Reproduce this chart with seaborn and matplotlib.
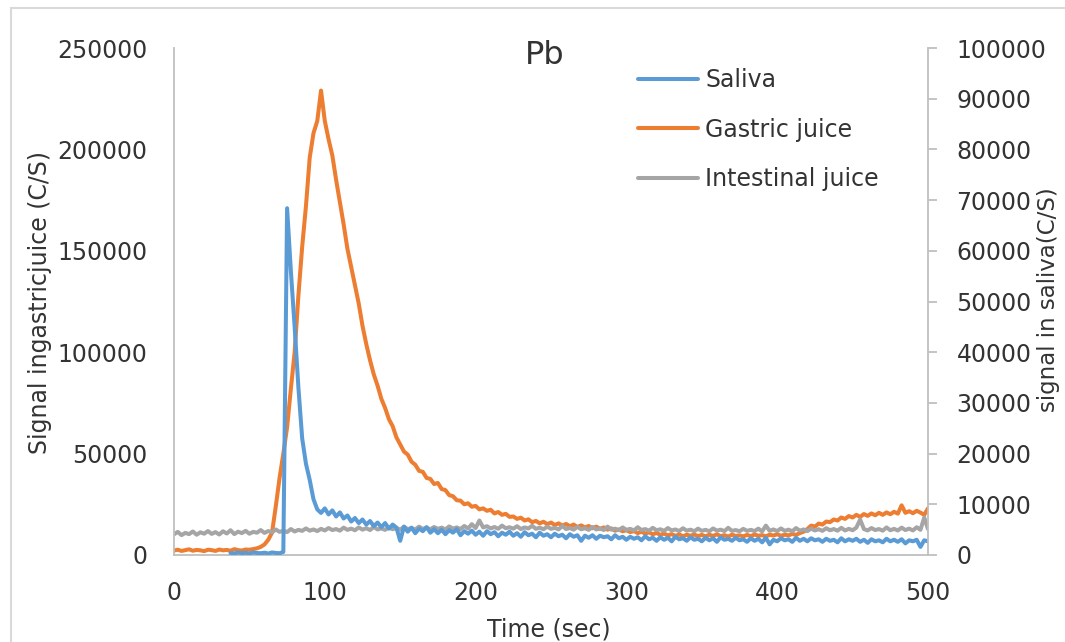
import numpy as np
import pandas as pd
import matplotlib
matplotlib.use("Agg")
import matplotlib.pyplot as plt
from matplotlib.lines import Line2D
from matplotlib.patches import Rectangle
import seaborn as sns

# ---------------- data ----------------
time_s = np.arange(0, 500.1, 2.5)   # 201 sample times, 0..500 s

N = None
saliva = [  # right axis (signal in saliva, C/S)
    N, N, N, N, N, N, N, N, N, N,
    N, N, N, N, N, 400, 300, 500, 350, 450,
    300, 500, 400, 350, 450, 300, 500, 400, 350, 600,
    68400, 56000, 45000, 33000, 23000, 18000, 14800, 11000, 9000, 8300,
    9200, 8000, 8800, 7600, 8400, 7200, 7800, 6600, 7300, 6300,
    7000, 6000, 6700, 5700, 6400, 5500, 6300, 5200, 6000, 5400,
    2800, 5600, 4600, 5400, 4300, 5200, 4700, 5500, 4400, 5100,
    4300, 5000, 4100, 4900, 4400, 5100, 3900, 4700, 4200, 4800,
    4000, 4600, 3800, 4700, 4100, 4500, 3700, 4400, 4000, 4600,
    3800, 4300, 3600, 4500, 3900, 4200, 3500, 4400, 3800, 4100,
    3500, 4200, 3700, 4000, 3300, 4100, 3600, 3900, 2800, 3800,
    3400, 3900, 3200, 3800, 3500, 3700, 3100, 3900, 3300, 3600,
    3000, 3600, 3200, 3500, 2900, 3700, 3100, 3400, 2800, 3500,
    3000, 3400, 2700, 3600, 3100, 3300, 2800, 3500, 3000, 3200,
    2700, 3400, 2900, 3300, 2600, 3500, 3000, 3200, 2800, 3400,
    2900, 3100, 2600, 3300, 2800, 3200, 2500, 3400, 2100, 3000,
    2700, 3300, 2900, 3100, 2600, 3400, 2800, 3200, 2700, 3300,
    2900, 3100, 2600, 3200, 2800, 3000, 2500, 3300, 2700, 3100,
    2800, 3200, 2600, 3000, 2400, 3100, 2700, 2900, 2500, 3200,
    2700, 3000, 2600, 3100, 2300, 2900, 2700, 3000, 1600, 2900,
    2700,
]

gastric = [  # left axis
    2200, 2600, 2000, 2400, 2800, 2100, 2500, 2300, 1900, 2600,
    2400, 2000, 2700, 2300, 2500, 2100, 2900, 2400, 2200, 2700,
    2600, 2900, 3300, 4000, 5200, 7500, 11000, 24000, 38000, 50000,
    63000, 82000, 100000, 128000, 152000, 172000, 196000, 208000, 214000, 229000,
    214000, 205000, 197000, 185000, 174000, 163000, 151000, 142000, 133000, 124000,
    113000, 104000, 96000, 89000, 83500, 77000, 72500, 67000, 63500, 58000,
    54500, 51000, 49500, 46000, 44500, 41500, 41000, 38000, 37500, 35000,
    35500, 32500, 32000, 29500, 29000, 27000, 26800, 25000, 25500, 23800,
    24200, 22500, 23000, 21800, 22300, 20500, 21200, 19800, 20300, 18800,
    19000, 17800, 18400, 17000, 17600, 16200, 16800, 15600, 16400, 15200,
    16000, 14800, 15600, 14500, 15300, 14200, 15000, 13800, 14600, 13600,
    14300, 13200, 14000, 12900, 13600, 12500, 13100, 12000, 12600, 11700,
    12200, 11300, 11800, 10800, 11500, 10500, 11200, 10200, 10900, 9900,
    10600, 9600, 10300, 9400, 10200, 9200, 10000, 9500, 10100, 9300,
    9900, 9200, 10000, 9400, 10200, 9300, 9800, 9100, 10000, 9400,
    9700, 9200, 9900, 9300, 10100, 9500, 9800, 9200, 10000, 9600,
    10200, 9500, 10000, 9700, 10400, 9900, 10800, 11500, 12800, 14500,
    14000, 15500, 15000, 16500, 16200, 17500, 17000, 18500, 17800, 19200,
    18500, 19800, 18800, 20200, 19300, 20500, 19600, 20800, 19800, 21000,
    20100, 21300, 20400, 24500, 20800, 21600, 20600, 21800, 20900, 19800,
    23000,
]

intestinal = [  # left axis
    10200, 11400, 9800, 10900, 10300, 11600, 10000, 11200, 10500, 11800,
    10400, 11300, 10100, 11700, 10600, 12200, 10300, 11500, 10800, 11900,
    10500, 11400, 11000, 12300, 10900, 11800, 11200, 12600, 11400, 12000,
    11300, 12800, 11600, 12400, 11900, 13100, 12000, 12600, 11800, 12900,
    12100, 13300, 12300, 12800, 12000, 13500, 12400, 13000, 12200, 13600,
    12500, 13200, 12300, 13800, 12600, 13100, 12400, 13600, 12700, 13300,
    12500, 13900, 12800, 13200, 12600, 14000, 12900, 13400, 12700, 13800,
    12900, 13500, 12600, 14100, 13000, 13600, 12800, 14300, 13100, 15200,
    13300, 17000, 13600, 14200, 13100, 13800, 12900, 14500, 13200, 13700,
    13000, 14200, 12800, 13600, 13100, 14400, 12900, 13500, 12700, 14000,
    12900, 13400, 12600, 14300, 12800, 13300, 12500, 13900, 12700, 13200,
    12400, 13800, 12600, 13100, 12300, 14000, 12500, 13000, 12200, 13600,
    12400, 12900, 12100, 13700, 12300, 12800, 12000, 13400, 12200, 12700,
    11900, 13300, 12100, 12600, 11800, 13200, 12000, 12500, 11700, 13000,
    11900, 12400, 11700, 13100, 12000, 12500, 11800, 13400, 11900, 12300,
    11700, 12900, 11900, 12400, 11800, 13000, 11600, 14500, 11900, 12600,
    11800, 13100, 11900, 12500, 11700, 13300, 12000, 12600, 11800, 13000,
    12100, 12700, 11900, 13200, 12200, 12800, 12000, 13400, 12100, 12900,
    12200, 13500, 17500, 12800, 12100, 13300, 12300, 12800, 12000, 13600,
    12200, 12900, 12100, 13500, 12300, 13000, 12100, 13700, 12400, 18500,
    12800,
]

x_ticks = [0, 100, 200, 300, 400, 500]
left_ticks = [0, 50000, 100000, 150000, 200000, 250000]
right_ticks = [0, 10000, 20000, 30000, 40000, 50000, 60000, 70000, 80000, 90000, 100000]

series_names = ["Saliva", "Gastric juice", "Intestinal juice"]
colors = {"Saliva": "#5B9BD5", "Gastric juice": "#ED7D31", "Intestinal juice": "#A5A5A5"}

df = pd.DataFrame({"time": time_s, "Saliva": saliva,
                   "Gastric juice": gastric, "Intestinal juice": intestinal})

# ---------------- styling ----------------
sns.set_theme(style="white")
plt.rcParams["font.family"] = ["DejaVu Sans"]
TXT = "#333333"
AX = "#bfbfbf"
FS = 17
LW = 2.9

W, H = 1065, 642
fig = plt.figure(figsize=(W / 100, H / 100), dpi=100)
fig.patch.set_facecolor("white")
ax = fig.add_axes([174 / W, 1 - 555 / H, 754 / W, 507 / H])
ax2 = ax.twinx()

sns.lineplot(data=df, x="time", y="Gastric juice", ax=ax, color=colors["Gastric juice"],
             lw=LW, estimator=None, sort=False, legend=False)
sns.lineplot(data=df, x="time", y="Intestinal juice", ax=ax, color=colors["Intestinal juice"],
             lw=LW, estimator=None, sort=False, legend=False)
sns.lineplot(data=df, x="time", y="Saliva", ax=ax2, color=colors["Saliva"],
             lw=LW, estimator=None, sort=False, legend=False)

ax.set_xlim(0, 500)
ax.set_ylim(0, 250000)
ax2.set_ylim(0, 100000)
ax.set_xticks(x_ticks)
ax.set_xticklabels([str(v) for v in x_ticks])
ax.set_yticks(left_ticks)
ax.set_yticklabels([str(v) for v in left_ticks])
ax2.set_yticks(right_ticks)
ax2.set_yticklabels([str(v) for v in right_ticks])

for a in (ax, ax2):
    for s in a.spines.values():
        s.set_visible(False)
    a.grid(False)
ax.spines["left"].set_visible(True)
ax.spines["bottom"].set_visible(True)
ax2.spines["right"].set_visible(True)
for s in (ax.spines["left"], ax.spines["bottom"], ax2.spines["right"]):
    s.set_color(AX)
    s.set_linewidth(1.3)

ax.tick_params(axis="y", length=0, pad=19, labelsize=FS, labelcolor=TXT)
ax.tick_params(axis="x", length=0, pad=19, labelsize=FS, labelcolor=TXT)
ax2.tick_params(axis="y", direction="out", length=6.5, width=1.3, color=AX,
                pad=14, labelsize=FS, labelcolor=TXT)

ax.set_xlabel("Time (sec)", fontsize=FS, color=TXT)
ax.xaxis.set_label_coords((549 - 174) / 754, (555 - 617) / 507)
ax.set_ylabel("Signal ingastricjuice (C/S)", fontsize=FS, color=TXT)
ax.yaxis.set_label_coords((52 - 174) / 754, (555 - 303) / 507)
ax2.set_ylabel("")
fig.text(1049 / W, 1 - 300 / H, "signal in saliva(C/S)", rotation=90,
         ha="center", va="center", fontsize=16.5, color=TXT)

ax.text((545 - 174) / 754, (555 - 56) / 507, "Pb", transform=ax.transAxes,
        ha="center", va="center", fontsize=23, color=TXT)

handles = [Line2D([0], [0], color=colors[n], lw=LW) for n in series_names]
leg = ax2.legend(handles, series_names, loc="upper left",
                 bbox_to_anchor=(638 / W, 1 - 68 / H), bbox_transform=fig.transFigure,
                 frameon=False, fontsize=FS, handlelength=2.55, handletextpad=0.3,
                 labelspacing=1.08, borderpad=0, borderaxespad=0)
for t in leg.get_texts():
    t.set_color(TXT)

# outer chart frame (partly cut off at right/bottom)
fig.patches.append(Rectangle((11 / W, -0.2), 1.5, 1.2 - 8 / H, transform=fig.transFigure,
                             fill=False, edgecolor="#d9d9d9", lw=1.5))

fig.savefig("out.png", dpi=100)
